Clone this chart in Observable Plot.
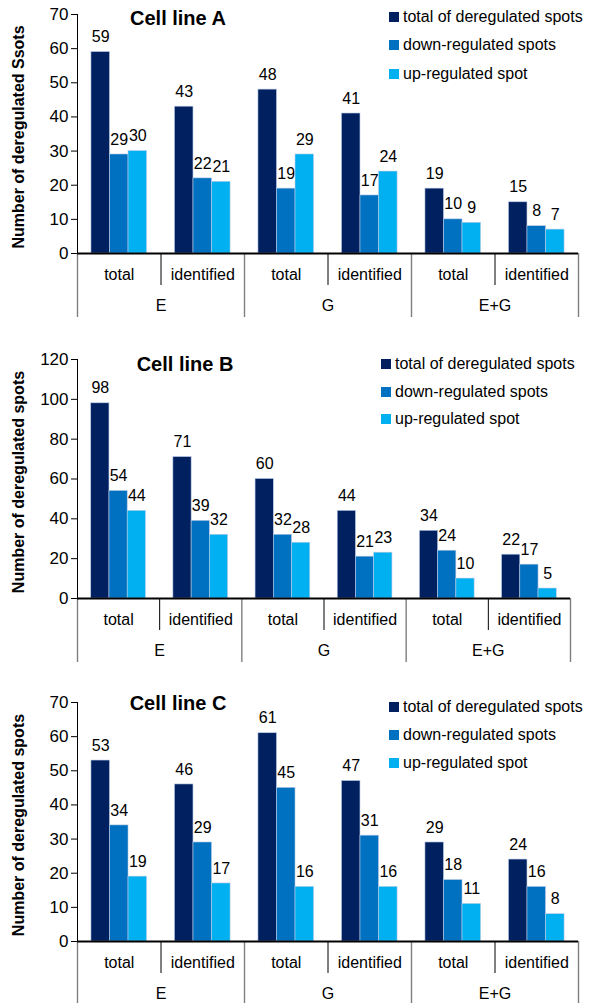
<!DOCTYPE html>
<html><head><meta charset="utf-8">
<script src="https://cdn.jsdelivr.net/npm/d3@7"></script>
<script src="https://cdn.jsdelivr.net/npm/@observablehq/plot@0.6"></script>
<style>
body{margin:0;background:#fff;font-family:"Liberation Sans",Arial,sans-serif;color:#000;}
#root{position:relative;width:590px;height:1003px;overflow:hidden;background:#fff;}
.panel{position:absolute;left:0;}
.title{position:absolute;font-weight:bold;font-size:20px;transform:translate(-50%,-50%);white-space:nowrap;}
.lg{position:absolute;font-size:16px;white-space:nowrap;display:flex;align-items:center;transform:translateY(-50%);}
.sw{width:10px;height:10px;display:inline-block;margin-right:4px;}
</style></head><body><div id="root"></div>
<script>
// ---- data ----
const categories = ["total","identified","total","identified","total","identified"];
const groups = ["E","G","E+G"];
const seriesNames = ["total of deregulated spots","down-regulated spots","up-regulated spot"];
const seriesColors = ["#002060","#0070C0","#00B0F0"];
const panelTitles = ["Cell line A","Cell line B","Cell line C"];
const yTitles = ["Number of deregulated Ssots","Number of deregulated spots","Number of deregulated spots"];
const yTicksA = [0,10,20,30,40,50,60,70];
const yTicksB = [0,20,40,60,80,100,120];
const yTicksC = [0,10,20,30,40,50,60,70];
const cellA_total = [59,43,48,41,19,15];
const cellA_down  = [29,22,19,17,10,8];
const cellA_up    = [30,21,29,24,9,7];
const cellB_total = [98,71,60,44,34,22];
const cellB_down  = [54,39,32,21,24,17];
const cellB_up    = [44,32,28,23,10,5];
const cellC_total = [53,46,61,47,29,24];
const cellC_down  = [34,29,45,31,18,16];
const cellC_up    = [19,17,16,16,11,8];

// ---- layout ----
const panels = [
  {series:[cellA_total,cellA_down,cellA_up], ticks:yTicksA, top:0, height:330, mt:14, mb:77, mr:12,
   title:[178,18], legend:{x:389, ys:[17,45,74]}},
  {series:[cellB_total,cellB_down,cellB_up], ticks:yTicksB, top:330, height:340, mt:29, mb:72, mr:20,
   title:[185,364], legend:{x:381, ys:[364,391.5,418.5]}},
  {series:[cellC_total,cellC_down,cellC_up], ticks:yTicksC, top:670, height:333, mt:32, mb:62, mr:12,
   title:[178,703], legend:{x:389, ys:[707,735,763]}}
];
const BW = 0.222;
const root = document.getElementById("root");

panels.forEach((p, pi) => {
  const yMax = p.ticks[p.ticks.length - 1];
  const marks = [];
  p.series.forEach((vals, k) => {
    const rows = vals.map((v, i) => ({i, v}));
    const x1 = d => d.i + 0.5 + (k - 1.5) * BW;
    marks.push(Plot.rectY(rows, {x1, x2: d => x1(d) + BW, y1: 0, y2: d => d.v,
      fill: seriesColors[k], stroke: "#b9cbe6", strokeWidth: 0.6}));
    marks.push(Plot.text(rows, {x: d => x1(d) + BW / 2, y: d => d.v, text: d => String(d.v),
      dy: -15, fontSize: 16, fill: "#000"}));
  });
  marks.push(Plot.axisY({ticks: p.ticks, tickSize: 6, tickPadding: 3, label: null, fontSize: 17}));
  marks.push(Plot.ruleX([0], {x: d => d, y1: 0, y2: yMax, stroke: "#000"}));
  marks.push(Plot.ruleX([1,3,5], {x: d => d, y1: 0, y2: 0, insetBottom: -32, stroke: "#000"}));
  marks.push(Plot.ruleX([0,2,4,6], {x: d => d, y1: 0, y2: 0, insetBottom: -64, stroke: "#7f7f7f", strokeWidth: 1.4}));
  marks.push(Plot.ruleY([0], {stroke: "#000", strokeWidth: 2.2}));
  marks.push(Plot.text(categories, {x: (d, i) => i + 0.5, y: 0, dy: 21, text: d => d, fontSize: 16}));
  marks.push(Plot.text(groups, {x: (d, i) => 2 * i + 1, y: 0, dy: 52, text: d => d, fontSize: 16}));
  marks.push(Plot.text([yTitles[pi]], {frameAnchor: "left", textAnchor: "middle", rotate: -90, dx: -59, dy: 3,
    text: d => d, fontWeight: "bold", fontSize: 16}));
  const svg = Plot.plot({
    width: 590, height: p.height,
    marginTop: p.mt, marginBottom: p.mb, marginLeft: 77, marginRight: p.mr,
    x: {type: "linear", domain: [0, 6], axis: null},
    y: {domain: [0, yMax], axis: null},
    style: {fontFamily: "Liberation Sans, Arial, sans-serif", fontSize: "16px", background: "transparent", overflow: "visible"},
    marks
  });
  const wrap = document.createElement("div");
  wrap.className = "panel";
  wrap.style.top = p.top + "px";
  wrap.appendChild(svg);
  root.appendChild(wrap);

  const t = document.createElement("div");
  t.className = "title";
  t.textContent = panelTitles[pi];
  t.style.left = p.title[0] + "px";
  t.style.top = p.title[1] + "px";
  root.appendChild(t);

  seriesNames.forEach((name, k) => {
    const row = document.createElement("div");
    row.className = "lg";
    row.style.left = p.legend.x + "px";
    row.style.top = p.legend.ys[k] + "px";
    const sw = document.createElement("span");
    sw.className = "sw";
    sw.style.background = seriesColors[k];
    row.appendChild(sw);
    row.appendChild(document.createTextNode(name));
    root.appendChild(row);
  });
});
</script>
</body></html>
